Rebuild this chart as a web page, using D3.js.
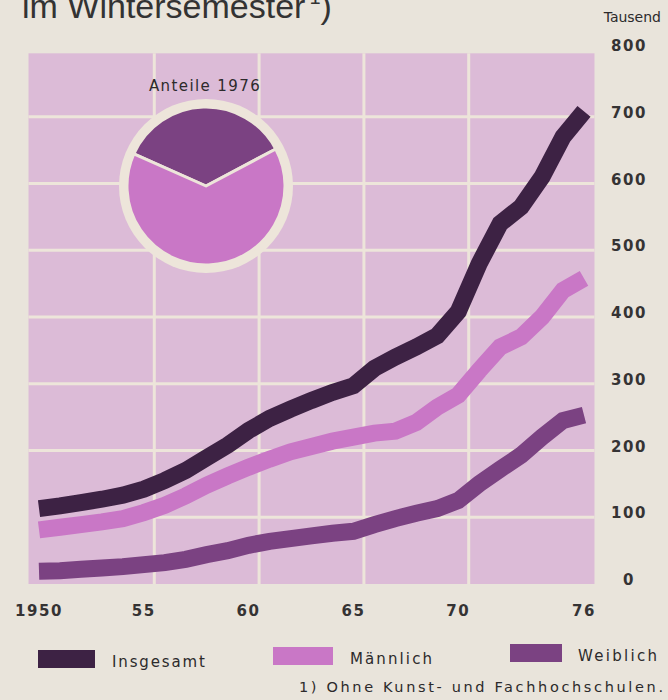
<!DOCTYPE html>
<html><head><meta charset="utf-8">
<script src="https://cdn.jsdelivr.net/npm/d3@7/dist/d3.min.js"></script>
<style>html,body{margin:0;padding:0;background:#e9e4db;} svg{display:block}</style>
</head><body><svg id="c" width="668" height="700"></svg>
<script>
// ---- data (Tausend) ----
const years = [1950,1951,1952,1953,1954,1955,1956,1957,1958,1959,1960,1961,1962,1963,1964,1965,1966,1967,1968,1969,1970,1971,1972,1973,1974,1975,1976];
const insgesamt = [113,117,122,127,133,142,155,170,189,208,230,248,262,275,287,297,323,340,355,372,408,480,540,565,610,670,708];
const maennlich = [81,85,89,93,98,107,118,132,148,162,175,187,198,206,214,220,226,229,242,265,283,320,355,370,400,440,458];
const weiblich  = [19,20,22,24,26,29,32,37,44,50,58,64,68,72,76,79,89,98,106,113,125,150,172,193,220,245,253];
const seriesNames = ["Insgesamt","Männlich","Weiblich"];
const yTicks = [0,100,200,300,400,500,600,700,800];
const xTickYears = [1950,1955,1960,1965,1970,1976];
const xTickLabels = ["1950","55","60","65","70","76"];
const gridYears = [1955.5,1960.5,1965.5,1970.5];
const gridValues = [100,200,300,400,500,600,700];
const pieTitle = "Anteile 1976";
const unitLabel = "Tausend";
const titleText = "im Wintersemester";
const footnote = "1) Ohne Kunst- und Fachhochschulen.";

// ---- styles ----
const colors = {Insgesamt:"#3d2244", "Männlich":"#c977c6", Weiblich:"#7b4282"};
const cream = "#ede5da", panel = "#dcbbd7", ink = "#2c2a2b";
const font = "DejaVu Sans, sans-serif";

const svg = d3.select("#c");
const x = d3.scaleLinear().domain([1950,1976]).range([39,584]);
const y = d3.scaleLinear().domain([0,800]).range([584,50]);

// title (cut at top, as in the source)
const t = svg.append("text").attr("x",22).attr("y",18)
  .attr("font-family","Liberation Sans, Arial, sans-serif").attr("font-size",34)
  .attr("fill","#333").text(titleText);
t.append("tspan").attr("font-size",20).attr("dy",-14).attr("dx",4).text("1");
t.append("tspan").attr("dy",14).text(")");

// panel
svg.append("rect").attr("x",x(1949.5)).attr("y",y(795))
  .attr("width",x(1976.5)-x(1949.5)).attr("height",y(0)-y(795)).attr("fill",panel);

// grid
svg.append("g").selectAll("line").data(gridValues).join("line")
  .attr("x1",d=> d===100 ? x(gridYears[0]) : x(1949.5)).attr("x2",x(1976.5))
  .attr("y1",d=>y(d)).attr("y2",d=>y(d)).attr("stroke",cream).attr("stroke-width",3);
svg.append("g").selectAll("line").data(gridYears).join("line")
  .attr("x1",d=>x(d)).attr("x2",d=>x(d)).attr("y1",y(795)).attr("y2",y(0))
  .attr("stroke",cream).attr("stroke-width",3);

// lines
const line = d3.line().x((d,i)=>x(years[i])).y(d=>y(d));
[["Weiblich",weiblich],["Männlich",maennlich],["Insgesamt",insgesamt]].forEach(([n,v])=>{
  svg.append("path").attr("d",line(v)).attr("fill","none").attr("stroke",colors[n])
    .attr("stroke-width",17).attr("stroke-linejoin","miter").attr("stroke-linecap","butt");
});

// pie
const last = years.length-1;
const pieData = [{k:"Weiblich",v:weiblich[last]},{k:"Männlich",v:maennlich[last]}];
const wShare = pieData[0].v/(pieData[0].v+pieData[1].v);
const start = -wShare*Math.PI - 0.035;
const pie = d3.pie().sort(null).value(d=>d.v).startAngle(start).endAngle(start+2*Math.PI);
const pg = svg.append("g").attr("transform","translate(206,186)");
pg.append("circle").attr("r",87).attr("fill",cream);
pg.selectAll("path").data(pie(pieData)).join("path")
  .attr("d",d3.arc().innerRadius(0).outerRadius(79))
  .attr("fill",d=>colors[d.data.k]).attr("stroke",cream).attr("stroke-width",3).attr("stroke-linejoin","round");
svg.append("text").attr("x",205).attr("y",91).attr("text-anchor","middle")
  .attr("font-family",font).attr("font-size",15).attr("letter-spacing",1.4)
  .attr("fill",ink).text(pieTitle);

// unit + y axis labels (right)
svg.append("text").attr("x",661).attr("y",22).attr("text-anchor","end")
  .attr("font-family",font).attr("font-size",14).attr("fill",ink).text(unitLabel);
svg.append("g").selectAll("text").data(yTicks).join("text")
  .attr("x",629).attr("y",d=>y(d)+1).attr("text-anchor","middle")
  .attr("font-family",font).attr("font-size",15).attr("font-weight","bold").attr("letter-spacing",1.6).attr("fill","#353334")
  .text(d=>d);

// x labels
svg.append("g").selectAll("text").data(xTickYears).join("text")
  .attr("x",d=>x(d)).attr("y",616).attr("text-anchor","middle")
  .attr("font-family",font).attr("font-size",15).attr("font-weight","bold").attr("letter-spacing",1.6).attr("fill","#353334")
  .text((d,i)=>xTickLabels[i]);

// legend
const legendPos = [{sx:38,sw:57,sy:650,tx:112,ty:667,tl:93},{sx:273,sw:60,sy:647,tx:350,ty:664,tl:82},{sx:510,sw:52,sy:644,tx:578,ty:661,tl:79}];
seriesNames.forEach((n,i)=>{
  const p = legendPos[i];
  svg.append("rect").attr("x",p.sx).attr("y",p.sy).attr("width",p.sw).attr("height",18).attr("fill",colors[n]);
  svg.append("text").attr("x",p.tx).attr("y",p.ty).attr("font-family",font).attr("font-size",15)
    .attr("textLength",p.tl).attr("lengthAdjust","spacing").attr("fill",ink).text(n);
});
svg.append("text").attr("x",299).attr("y",692).attr("font-family",font).attr("font-size",14.5)
  .attr("textLength",364).attr("lengthAdjust","spacing").attr("fill",ink).text(footnote);
</script></body></html>
